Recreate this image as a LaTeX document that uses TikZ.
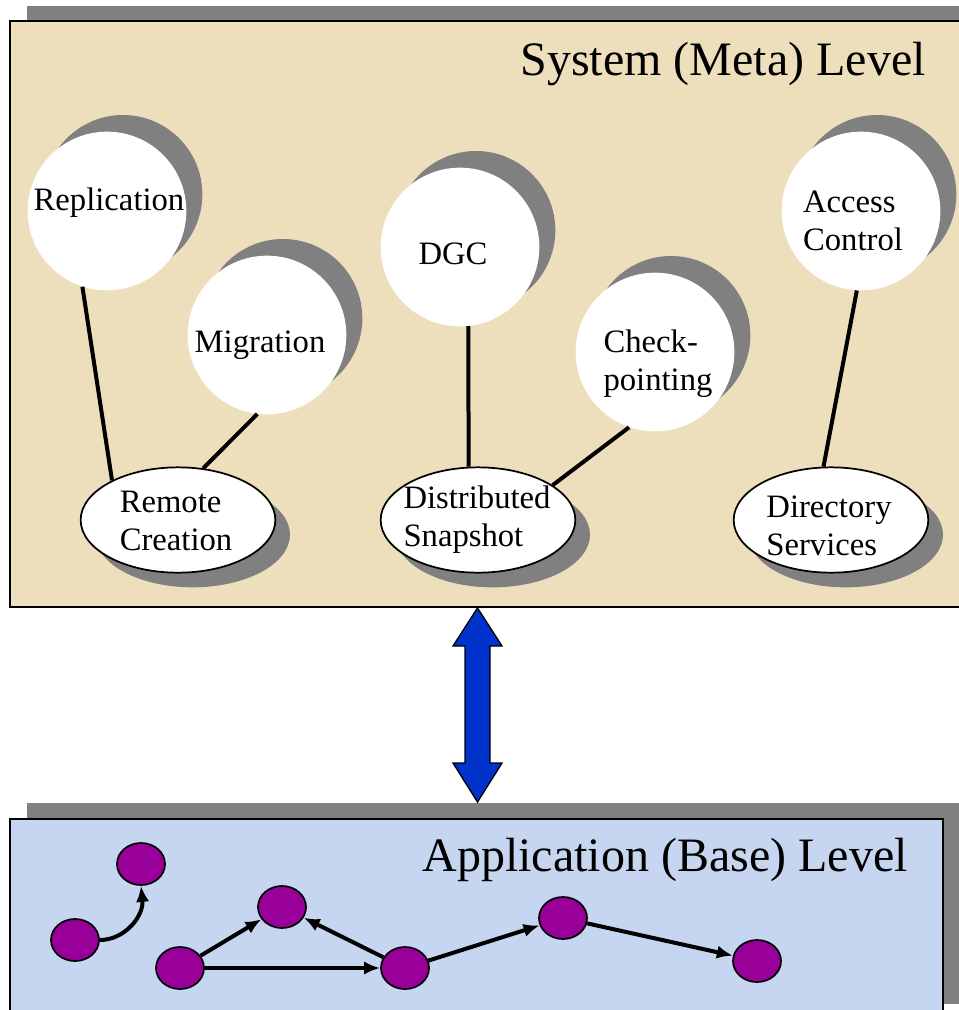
\documentclass[tikz,border=0pt]{standalone}
\usepackage{fontspec}
\setmainfont{Liberation Serif}
\usetikzlibrary{shadows,shapes.geometric,arrows.meta}
\definecolor{sandfill}{RGB}{238,223,188}
\definecolor{skyfill}{RGB}{198,214,240}
\definecolor{shadegray}{RGB}{128,128,128}
\definecolor{plum}{RGB}{153,0,153}
\definecolor{arrowblue}{RGB}{0,51,204}
\begin{document}
\begin{tikzpicture}[x=0.75pt,y=-0.75pt,
  bubble/.style={circle,fill=white,minimum size=119pt,inner sep=0pt,
    drop shadow={shadow xshift=12pt,shadow yshift=12.5pt,fill=shadegray,opacity=1}},
  pod/.style={ellipse,draw,line width=1.3pt,fill=white,minimum width=146pt,minimum height=79pt,inner sep=0pt,
    drop shadow={shadow xshift=11pt,shadow yshift=-11pt,fill=shadegray,opacity=1}},
  lbl/.style={font=\fontsize{24.5}{28.5}\selectfont,align=left,inner sep=0pt},
  title/.style={font=\fontsize{36}{40}\selectfont,inner sep=0pt},
  dot/.style={ellipse,draw,line width=1.3pt,fill=plum,minimum width=36pt,minimum height=31.5pt,inner sep=0pt},
  link/.style={line width=3pt},
  flow/.style={line width=3pt,-{Latex[length=12pt,width=10pt]}}]
\useasboundingbox (0,0) rectangle (959,1010);
\clip (0,0) rectangle (959,1010);
\fill[shadegray] (27,6) rectangle (975,592);
\draw[fill=sandfill,line width=1.3pt] (10,21) rectangle (975,607);
\fill[shadegray] (27,803) rectangle (960,1004);
\draw[fill=skyfill,line width=1.3pt] (10,819) rectangle (943,1020);
\node[title,anchor=east] (meta) at (926,64) {System (Meta) Level};
\node[title,anchor=east] (base) at (908,860) {Application (Base) Level};
\node[bubble] (rep) at (107,211) {};
\node[bubble] (mig) at (267,335) {};
\node[bubble] (dgc) at (460,247) {};
\node[bubble] (chk) at (655,352) {};
\node[bubble] (acc) at (861,211) {};
\node[pod] (rc) at (178,520) {};
\node[pod] (ds) at (478,520) {};
\node[pod] (dir) at (831,520) {};
\node[lbl] (rep-t) at (109,203) {Replication};
\node[lbl] (mig-t) at (260,345) {Migration};
\node[lbl] (dgc-t) at (453,254) {DGC};
\node[lbl] (chk-t) at (658,364) {Check-\\pointing};
\node[lbl] (acc-t) at (853,221) {Access\\Control};
\node[lbl] (rc-t) at (176,521) {Remote\\Creation};
\node[lbl] (ds-t) at (477,520) {Distributed\\Snapshot};
\node[lbl] (dir-t) at (829,526) {Directory\\Services};
\draw[link] (rep.252) -- (rc.149);
\draw[link] (mig.263) -- (rc.64);
\draw[link] (dgc.276) -- (ds.100);
\draw[link] (chk.251) -- (ds.25);
\draw[link] (acc.267) -- (dir.98);
\coordinate (up) at (477.5,608);
\coordinate (down) at (477.5,802);
\draw[fill=arrowblue,line width=1pt] (up) -- ++(24.5,38) -- ++(-12,0) -- ++(0,117) -- ++(12,0) -- (down)
  -- ++(-24.5,-39) -- ++(12,0) -- ++(0,-117) -- ++(-12,0) -- cycle;
\node[dot] (a1) at (141,864) {};
\node[dot] (a2) at (75,940) {};
\node[dot] (b1) at (282,907) {};
\node[dot] (b2) at (180,968) {};
\node[dot] (b3) at (405,968) {};
\node[dot] (c1) at (563,918) {};
\node[dot] (c2) at (757,961) {};
\draw[flow] (a2.east) .. controls +(25,0) and +(3,30) .. (a1.south);
\draw[flow] (b2) -- (b1);
\draw[flow] (b3) -- (b1);
\draw[flow] (b2) -- (b3);
\draw[flow] (b3) -- (c1);
\draw[flow] (c1) -- (c2);
\end{tikzpicture}
\end{document}
